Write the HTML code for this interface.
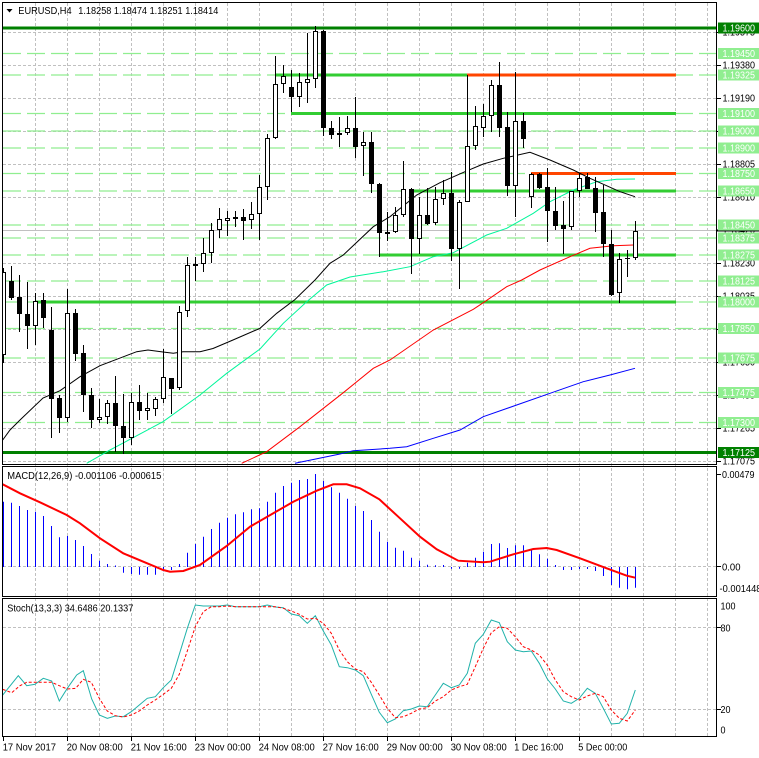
<!DOCTYPE html>
<html><head><meta charset="utf-8"><style>
html,body{margin:0;padding:0;background:#fff;}
svg{display:block;}
text{font-family:"Liberation Sans",sans-serif;font-size:10px;}
</style></head><body>
<svg width="759" height="758" viewBox="0 0 759 758" xmlns="http://www.w3.org/2000/svg">
<defs>
<clipPath id="cm"><rect x="3" y="3" width="713" height="461"/></clipPath>
<clipPath id="cd"><rect x="3" y="467" width="713" height="129"/></clipPath>
<clipPath id="cs"><rect x="3" y="599" width="713" height="137"/></clipPath>
</defs>
<rect width="759" height="758" fill="#fff"/>

<!-- vertical grid -->
<path d="M35.5 3V736M67.5 3V736M99.5 3V736M131.5 3V736M163.5 3V736M195.5 3V736M227.5 3V736M259.5 3V736M291.5 3V736M323.5 3V736M355.5 3V736M387.5 3V736M419.5 3V736M451.5 3V736M483.5 3V736M515.5 3V736M547.5 3V736M579.5 3V736M611.5 3V736M643.5 3V736M675.5 3V736M707.5 3V736" stroke="#c0c0c0" stroke-width="1" stroke-dasharray="3,2" fill="none"/>
<!-- horizontal grid main -->
<path d="M3 32.5H716M3 65.5H716M3 98.5H716M3 131.5H716M3 164.5H716M3 197.5H716M3 263.5H716M3 296.5H716M3 329.5H716M3 362.5H716M3 395.5H716M3 428.5H716M3 461.5H716" stroke="#c0c0c0" stroke-width="1" stroke-dasharray="3,2" fill="none"/>
<!-- bid line -->
<path d="M3 230.5H716" stroke="#c0c0c0" stroke-width="1"/>
<!-- macd/stoch grid -->
<path d="M3 566.5H716M3 627.5H716M3 709.5H716" stroke="#c0c0c0" stroke-width="1" stroke-dasharray="3,2" fill="none"/>

<!-- light green dashed levels -->
<path d="M3 53.5H716M3 75H716M3 113.5H716M3 131H716M3 148H716M3 173.5H716M3 191H716M3 225H716M3 238H716M3 255H716M3 281H716M3 302H716M3 328.5H716M3 358H716M3 392.5H716M3 422.5H716" stroke="#90ee90" stroke-width="1.3" stroke-dasharray="18,6" fill="none"/>

<!-- solid levels -->
<path d="M3 28H716M3 452.5H716" stroke="#008000" stroke-width="3"/>
<path d="M275 75H467M291 113.5H676M411 191H676M379 255H676M36 302H676" stroke="#32cd32" stroke-width="3"/>
<path d="M467 75H676M531 173.5H676" stroke="#ff4500" stroke-width="3"/>

<g clip-path="url(#cm)">
<!-- MAs -->
<polyline fill="none" stroke="#0000ff" stroke-width="1" points="295,463.3 340,454 353.3,450.7 390,448.3 406.7,446.7 433.3,438.3 460,430 483.3,416.7 516.7,405 550,393.3 583.3,381.7 610,375 635,368.3"/>
<polyline fill="none" stroke="#ff0000" stroke-width="1" points="241.7,463.3 266.7,451.7 300,426.7 343.3,392.7 373.3,368.3 390,360 433.3,330 473.3,309.3 483.3,302.7 506.7,286.7 521.7,280 540,270 570,256.7 590,248.3 613.3,245.7 633.3,245"/>
<polyline fill="none" stroke="#00f59a" stroke-width="1" points="86.7,463.3 110,450 163,421.7 200,395 226.7,373.3 260,349 283.3,323.3 306.7,301.7 326.7,285 350,277 383.3,271.7 410,266.7 433.3,256.7 453.3,252.7 486.7,235 506.7,228.3 533.3,213.3 550,201.7 573.3,190 596.7,181.7 616.7,179.3 635,179"/>
<polyline fill="none" stroke="#000" stroke-width="1" points="2.7,440 10,430 20,420 43,398 60,390.7 80,376.7 100,365.7 116.7,359.3 136.7,351.7 148,350 163,352 173.3,353.3 183,351.7 200,351.7 213,348.5 233,340 260,328.3 276.7,313.3 295,299.5 315,280 330,263.3 343.3,255 373.3,226.7 390,216.7 416.7,195 440,182.7 465,171.7 483.3,164 503.3,158.3 530,152.3 550,160 573.3,170 590,178.3 620,191.7 635,196.7"/>

<!-- wicks -->
<path stroke="#000" stroke-width="1" fill="none" d="M3.5 268V363M11.5 266V300M19.5 275V332M27.5 282V349M35.5 293V345M43.5 293V328M51.5 307V438M59.5 395V433M67.5 289V422M75.5 309V361M83.5 345V412M91.5 388V428M99.5 399V423M107.5 400V424M115.5 376V452M123.5 394V454M131.5 393V445M139.5 385V420M147.5 393V420M155.5 397V416M163.5 349V403M171.5 378V414M179.5 306V390M187.5 257V317M195.5 257V281M203.5 238V272M211.5 223V263M219.5 208V238M227.5 211V236M235.5 211V227M243.5 209V240M251.5 202V229M259.5 175V240M267.5 134V200M275.5 56V139M283.5 65V93M291.5 70V112M299.5 73V107M307.5 33V103M315.5 26V88M323.5 30V136M331.5 121V139M339.5 117V147M347.5 116V135M355.5 97V158M363.5 132V176M371.5 132V193M379.5 183V257M387.5 212V241M395.5 207V233M403.5 161V217M411.5 188V274M419.5 197V254M427.5 188V225M435.5 187V225M443.5 180V205M451.5 172V261M459.5 200V289M467.5 75V202M475.5 106V150M483.5 104V137M491.5 80V132M499.5 62V137M507.5 112V196M515.5 72V217M523.5 113V148M531.5 173V208M539.5 173V189M547.5 168V242M555.5 187V230M563.5 201V254M571.5 191V230M579.5 173V197M587.5 173V189M595.5 177V232M603.5 185V257M611.5 230V296M619.5 253V303M627.5 250V277M635.5 221V260"/>
<!-- bear bodies -->
<path fill="#000" d="M9 281h5v17h-5zM17 297h5v17h-5zM25 314h5v12h-5zM41 300h5v18h-5zM49 330h5v69h-5zM57 398h5v20h-5zM73 313h5v41h-5zM81 353h5v42h-5zM89 395h5v25h-5zM113 403h5v23h-5zM121 426h5v12h-5zM137 402h5v9h-5zM169 378h5v11h-5zM193 264h5v2h-5zM241 217h5v4h-5zM289 87h5v10h-5zM321 31h5v97h-5zM329 128h5v7h-5zM353 128h5v19h-5zM369 142h5v42h-5zM377 184h5v49h-5zM409 189h5v50h-5zM425 215h5v9h-5zM449 193h5v56h-5zM497 85h5v43h-5zM505 127h5v59h-5zM521 121h5v18h-5zM537 174h5v14h-5zM545 187h5v24h-5zM553 211h5v15h-5zM561 225h5v4h-5zM585 177h5v12h-5zM593 188h5v25h-5zM601 212h5v32h-5zM609 244h5v51h-5zM625 258h5v1h-5z"/>
<!-- bull bodies -->
<g fill="#fff" stroke="#000" stroke-width="1">
<rect x="1.5" y="272.5" width="4" height="82"/>
<rect x="33.5" y="301.5" width="4" height="24"/>
<rect x="65.5" y="313.5" width="4" height="104"/>
<rect x="97.5" y="417.5" width="4" height="2"/>
<rect x="105.5" y="403.5" width="4" height="13"/>
<rect x="129.5" y="402.5" width="4" height="35"/>
<rect x="145.5" y="408.5" width="4" height="2"/>
<rect x="153.5" y="399.5" width="4" height="9"/>
<rect x="161.5" y="377.5" width="4" height="21"/>
<rect x="177.5" y="312.5" width="4" height="75"/>
<rect x="185.5" y="265.5" width="4" height="45"/>
<rect x="201.5" y="253.5" width="4" height="10"/>
<rect x="209.5" y="230.5" width="4" height="22"/>
<rect x="217.5" y="219.5" width="4" height="10"/>
<rect x="225.5" y="218.5" width="4" height="2"/>
<rect x="233.5" y="217.5" width="4" height="1"/>
<rect x="249.5" y="214.5" width="4" height="5"/>
<rect x="257.5" y="187.5" width="4" height="26"/>
<rect x="265.5" y="138.5" width="4" height="48"/>
<rect x="273.5" y="84.5" width="4" height="53"/>
<rect x="281.5" y="76.5" width="4" height="7"/>
<rect x="297.5" y="82.5" width="4" height="14"/>
<rect x="305.5" y="79.5" width="4" height="3"/>
<rect x="313.5" y="31.5" width="4" height="47"/>
<rect x="337.5" y="133.5" width="4" height="1"/>
<rect x="345.5" y="128.5" width="4" height="4"/>
<rect x="361.5" y="142.5" width="4" height="3"/>
<rect x="385.5" y="232.5" width="4" height="1"/>
<rect x="393.5" y="215.5" width="4" height="16"/>
<rect x="401.5" y="189.5" width="4" height="25"/>
<rect x="417.5" y="215.5" width="4" height="23"/>
<rect x="433.5" y="199.5" width="4" height="23"/>
<rect x="441.5" y="193.5" width="4" height="5"/>
<rect x="457.5" y="202.5" width="4" height="46"/>
<rect x="465.5" y="146.5" width="4" height="55"/>
<rect x="473.5" y="126.5" width="4" height="19"/>
<rect x="481.5" y="116.5" width="4" height="11"/>
<rect x="489.5" y="85.5" width="4" height="30"/>
<rect x="513.5" y="121.5" width="4" height="64"/>
<rect x="529.5" y="174.5" width="4" height="22"/>
<rect x="569.5" y="191.5" width="4" height="35"/>
<rect x="577.5" y="178.5" width="4" height="12"/>
<rect x="617.5" y="259.5" width="4" height="33"/>
<rect x="633.5" y="231.5" width="4" height="26"/>
</g>
</g>

<!-- MACD -->
<g clip-path="url(#cd)">
<path stroke="#0000ff" stroke-width="1" fill="none" d="M3.5 567V501.7M11.5 567V502.7M19.5 567V506M27.5 567V510M35.5 567V511.7M43.5 567V516M51.5 567V526M59.5 567V537.3M67.5 567V536M75.5 567V540M83.5 567V546M91.5 567V554M99.5 567V560.7M107.5 567V564M115.5 567V565.5M123.5 567V572.7M131.5 567V574M139.5 567V574.7M147.5 567V574.7M155.5 567V574.7M163.5 567V571.3M171.5 567V570M179.5 567V564M187.5 567V552.7M195.5 567V544M203.5 567V536.7M211.5 567V529M219.5 567V522.7M227.5 567V517.7M235.5 567V514.3M243.5 567V512.3M251.5 567V509.3M259.5 567V508.3M267.5 567V501.7M275.5 567V492.7M283.5 567V486M291.5 567V482.7M299.5 567V480M307.5 567V479M315.5 567V474M323.5 567V481M331.5 567V487.3M339.5 567V492.7M347.5 567V498.7M355.5 567V506M363.5 567V511M371.5 567V520M379.5 567V531.7M387.5 567V541.7M395.5 567V547.7M403.5 567V550.7M411.5 567V557.7M419.5 567V560.7M427.5 567V564.7M435.5 567V565.3M443.5 567V565M451.5 567V568.7M459.5 567V568.7M467.5 567V562.7M475.5 567V557.7M483.5 567V551.7M491.5 567V544M499.5 567V543.3M507.5 567V548M515.5 567V545.3M523.5 567V545.3M531.5 567V550M539.5 567V554.3M547.5 567V558.7M555.5 567V565M563.5 567V570M571.5 567V570M579.5 567V569M587.5 567V569M595.5 567V571M603.5 567V576M611.5 567V585M619.5 567V587.7M627.5 567V589.3M635.5 567V587.7"/>
<polyline fill="none" stroke="#ff0000" stroke-width="2" points="2.7,484.3 20,493.3 40,502.3 66.7,515 80,523.3 100,538.3 123.3,553.3 143.3,561.7 163.3,570 170,571.7 183.3,571 200,565 226.7,546 250,526.7 273.3,513.3 293.3,501.7 316.7,490.7 333.3,484.3 346.7,484.3 360,488.3 379.3,499.3 400,518.3 420,536.7 436.7,549.3 458.3,560.7 483.3,562.3 490,561.7 513.3,554.3 533.3,549 546.7,548 556.7,550 580,558.3 606.7,568.3 626.7,575.7 635.3,577.7"/>
</g>

<!-- Stoch -->
<g clip-path="url(#cs)">
<polyline fill="none" stroke="#20b2aa" stroke-width="1" points="2.7,695 18.3,675.7 26.7,685.7 35,684.3 43.3,678.3 51.7,681 59.3,701 67.3,688.3 76.7,675 83.3,670.7 91.7,699 99.3,715 107.3,718.3 115.3,716 123.3,716.7 131.3,711.7 139.3,705 147.3,698.3 155.3,696.7 163.3,687.7 171.3,680 179.3,654.3 187.3,628.3 195.3,605 203.3,606 211.3,606 219.3,606 227.3,605 235.3,606.7 243.3,606.7 251.3,606.7 259.3,606.7 267.3,605 275.3,607 283.3,607.7 291.3,614 299.3,615.7 307.3,623.3 315.3,615.7 323.3,631 331.3,645 339.3,666.7 347.3,667.7 355.3,670 363.3,675.7 371.3,694.3 379.3,712.3 387.3,722.7 395.3,719 403.3,710.7 411.3,709 419.3,706 427.3,706.7 435.3,695 443.3,683.3 451.3,687.7 459.3,685 467.3,673.3 475.3,643.3 483.3,634.3 491.3,620 499.3,622.7 507.3,641.7 515.3,650 523.3,651.7 531.3,651 539.3,663.3 547.3,679 555.3,689 563.3,701 571.3,703.3 579.3,698.3 587.3,688.3 595.3,693.3 603.3,708.3 611.3,724 619.3,723.3 627.3,713.3 635.3,690"/>
<polyline fill="none" stroke="#ff0000" stroke-width="1" stroke-dasharray="3,2" points="2.7,689.3 11.7,692.7 20,685.7 26.7,682.3 35,682.3 43.3,682.3 51.7,682.3 59.3,685.7 67.3,689 75.7,688.3 83.3,679.3 91.3,682.3 99.3,698.3 107.3,711 115.3,715.7 123.3,717 131.3,715 139.3,711 147.3,705 155.3,700 163.3,694.3 171.3,688.3 179.3,674.3 187.3,651 195.3,626.7 203.3,611.7 211.3,606.7 219.3,606.7 227.3,606 235.3,606.7 243.3,606.7 251.3,606.7 259.3,606.7 267.3,606.7 275.3,606.7 283.3,608.3 291.3,611 299.3,614.3 307.3,619 315.3,618.3 323.3,623.3 331.3,633.3 339.3,650 347.3,661.7 355.3,669 363.3,671.7 371.3,682.3 379.3,695 387.3,708.3 395.3,717.7 403.3,716.7 411.3,713.3 419.3,709 427.3,707.7 435.3,701 443.3,696.7 451.3,690 459.3,686.7 467.3,684.3 475.3,666.7 483.3,648.3 491.3,632.7 499.3,626.7 507.3,628.3 515.3,636.7 523.3,646.7 531.3,650 539.3,655 547.3,665 555.3,680 563.3,691.7 571.3,696.7 579.3,700 587.3,696 595.3,693.3 603.3,696.7 611.3,710 619.3,718.3 627.3,721 635.3,710"/>
</g>

<!-- panel frames -->
<g fill="none" stroke="#000" stroke-width="1">
<rect x="2.5" y="2.5" width="714" height="462"/>
<rect x="2.5" y="466.5" width="714" height="130"/>
<rect x="2.5" y="598.5" width="714" height="138"/>
</g>

<!-- axis ticks -->
<path stroke="#000" stroke-width="1" d="M717 32.5H721M717 65.5H721M717 98.5H721M717 131.5H721M717 164.5H721M717 197.5H721M717 263.5H721M717 296.5H721M717 329.5H721M717 362.5H721M717 395.5H721M717 428.5H721M717 461.5H721M717 474.5H721M717 566.5H721M717 627.5H721M717 709.5H721M3.5 737V741M67.5 737V741M131.5 737V741M195.5 737V741M259.5 737V741M323.5 737V741M387.5 737V741M451.5 737V741M515.5 737V741M579.5 737V741"/>

<!-- black price labels -->
<g fill="#000">
<text x="722.5" y="35.6" textLength="32.5" lengthAdjust="spacingAndGlyphs">1.19575</text>
<text x="722.5" y="68.6" textLength="32.5" lengthAdjust="spacingAndGlyphs">1.19380</text>
<text x="722.5" y="101.6" textLength="32.5" lengthAdjust="spacingAndGlyphs">1.19190</text>
<text x="722.5" y="134.6" textLength="32.5" lengthAdjust="spacingAndGlyphs">1.18995</text>
<text x="722.5" y="167.6" textLength="32.5" lengthAdjust="spacingAndGlyphs">1.18805</text>
<text x="722.5" y="200.6" textLength="32.5" lengthAdjust="spacingAndGlyphs">1.18610</text>
<text x="722.5" y="233.6" textLength="32.5" lengthAdjust="spacingAndGlyphs">1.18420</text>
<text x="722.5" y="266.6" textLength="32.5" lengthAdjust="spacingAndGlyphs">1.18230</text>
<text x="722.5" y="299.6" textLength="32.5" lengthAdjust="spacingAndGlyphs">1.18035</text>
<text x="722.5" y="332.6" textLength="32.5" lengthAdjust="spacingAndGlyphs">1.17840</text>
<text x="722.5" y="365.6" textLength="32.5" lengthAdjust="spacingAndGlyphs">1.17650</text>
<text x="722.5" y="398.6" textLength="32.5" lengthAdjust="spacingAndGlyphs">1.17455</text>
<text x="722.5" y="431.6" textLength="32.5" lengthAdjust="spacingAndGlyphs">1.17265</text>
<text x="722.5" y="464.6" textLength="32.5" lengthAdjust="spacingAndGlyphs">1.17075</text>
</g>

<!-- bid marker -->
<path d="M717 230.5H759" stroke="#000" stroke-width="2"/>

<!-- level label boxes -->
<g fill="#90ee90">
<rect x="718" y="48" width="41" height="11"/>
<rect x="718" y="69.5" width="41" height="11"/>
<rect x="718" y="108" width="41" height="11"/>
<rect x="718" y="125.5" width="41" height="11"/>
<rect x="718" y="142.5" width="41" height="11"/>
<rect x="718" y="168" width="41" height="11"/>
<rect x="718" y="185.5" width="41" height="11"/>
<rect x="718" y="219.5" width="41" height="11"/>
<rect x="718" y="232.5" width="41" height="11"/>
<rect x="718" y="249.5" width="41" height="11"/>
<rect x="718" y="275.5" width="41" height="11"/>
<rect x="718" y="296.5" width="41" height="11"/>
<rect x="718" y="323" width="41" height="11"/>
<rect x="718" y="352.5" width="41" height="11"/>
<rect x="718" y="387" width="41" height="11"/>
<rect x="718" y="417" width="41" height="11"/>
</g>
<g fill="#008000">
<rect x="718" y="22.5" width="41" height="11"/>
<rect x="718" y="447" width="41" height="11"/>
</g>
<g fill="#fff">
<text x="722.5" y="31.6" textLength="32.5" lengthAdjust="spacingAndGlyphs">1.19600</text>
<text x="722.5" y="57.1" textLength="32.5" lengthAdjust="spacingAndGlyphs">1.19450</text>
<text x="722.5" y="78.6" textLength="32.5" lengthAdjust="spacingAndGlyphs">1.19325</text>
<text x="722.5" y="117.1" textLength="32.5" lengthAdjust="spacingAndGlyphs">1.19100</text>
<text x="722.5" y="134.6" textLength="32.5" lengthAdjust="spacingAndGlyphs">1.19000</text>
<text x="722.5" y="151.6" textLength="32.5" lengthAdjust="spacingAndGlyphs">1.18900</text>
<text x="722.5" y="177.1" textLength="32.5" lengthAdjust="spacingAndGlyphs">1.18750</text>
<text x="722.5" y="194.6" textLength="32.5" lengthAdjust="spacingAndGlyphs">1.18650</text>
<text x="722.5" y="228.6" textLength="32.5" lengthAdjust="spacingAndGlyphs">1.18450</text>
<text x="722.5" y="241.6" textLength="32.5" lengthAdjust="spacingAndGlyphs">1.18375</text>
<text x="722.5" y="258.6" textLength="32.5" lengthAdjust="spacingAndGlyphs">1.18275</text>
<text x="722.5" y="284.6" textLength="32.5" lengthAdjust="spacingAndGlyphs">1.18125</text>
<text x="722.5" y="305.6" textLength="32.5" lengthAdjust="spacingAndGlyphs">1.18000</text>
<text x="722.5" y="332.1" textLength="32.5" lengthAdjust="spacingAndGlyphs">1.17850</text>
<text x="722.5" y="361.6" textLength="32.5" lengthAdjust="spacingAndGlyphs">1.17675</text>
<text x="722.5" y="396.1" textLength="32.5" lengthAdjust="spacingAndGlyphs">1.17475</text>
<text x="722.5" y="426.1" textLength="32.5" lengthAdjust="spacingAndGlyphs">1.17300</text>
<text x="722.5" y="456.1" textLength="32.5" lengthAdjust="spacingAndGlyphs">1.17125</text>
</g>

<!-- indicator axis labels -->
<g fill="#000">
<text x="722" y="478" textLength="32.5" lengthAdjust="spacingAndGlyphs">0.00479</text>
<text x="722" y="570.3" textLength="18.5" lengthAdjust="spacingAndGlyphs">0.00</text>
<text x="719.5" y="592" textLength="42" lengthAdjust="spacingAndGlyphs">-0.001448</text>
<text x="720.5" y="609.6" textLength="15" lengthAdjust="spacingAndGlyphs">100</text>
<text x="720.5" y="631.3" textLength="10" lengthAdjust="spacingAndGlyphs">80</text>
<text x="720.5" y="712.9" textLength="10" lengthAdjust="spacingAndGlyphs">20</text>
<text x="720.5" y="733.6" textLength="5" lengthAdjust="spacingAndGlyphs">0</text>
</g>

<!-- title & indicator labels -->
<polygon points="6.5,9 12.5,9 9.5,12.5" fill="#000"/>
<text x="18.3" y="14" textLength="53.3" lengthAdjust="spacingAndGlyphs" fill="#000">EURUSD,H4</text>
<text x="78.3" y="14" textLength="140" lengthAdjust="spacingAndGlyphs" fill="#000">1.18258 1.18474 1.18251 1.18414</text>
<text x="7.3" y="479" textLength="154" lengthAdjust="spacingAndGlyphs" fill="#000">MACD(12,26,9) -0.001106 -0.000615</text>
<text x="7.3" y="611.5" textLength="126" lengthAdjust="spacingAndGlyphs" fill="#000">Stoch(13,3,3) 34.6486 20.1337</text>

<!-- time axis -->
<g fill="#000">
<text x="2.7" y="750.3" textLength="53.3" lengthAdjust="spacingAndGlyphs">17 Nov 2017</text>
<text x="66.7" y="750.3" textLength="56" lengthAdjust="spacingAndGlyphs">20 Nov 08:00</text>
<text x="130.7" y="750.3" textLength="56" lengthAdjust="spacingAndGlyphs">21 Nov 16:00</text>
<text x="194.7" y="750.3" textLength="56" lengthAdjust="spacingAndGlyphs">23 Nov 00:00</text>
<text x="258.7" y="750.3" textLength="56" lengthAdjust="spacingAndGlyphs">24 Nov 08:00</text>
<text x="322.7" y="750.3" textLength="56" lengthAdjust="spacingAndGlyphs">27 Nov 16:00</text>
<text x="386.7" y="750.3" textLength="56" lengthAdjust="spacingAndGlyphs">29 Nov 00:00</text>
<text x="450.7" y="750.3" textLength="56" lengthAdjust="spacingAndGlyphs">30 Nov 08:00</text>
<text x="514.3" y="750.3" textLength="49" lengthAdjust="spacingAndGlyphs">1 Dec 16:00</text>
<text x="578.3" y="750.3" textLength="49" lengthAdjust="spacingAndGlyphs">5 Dec 00:00</text>
</g>
</svg>
</body></html>
